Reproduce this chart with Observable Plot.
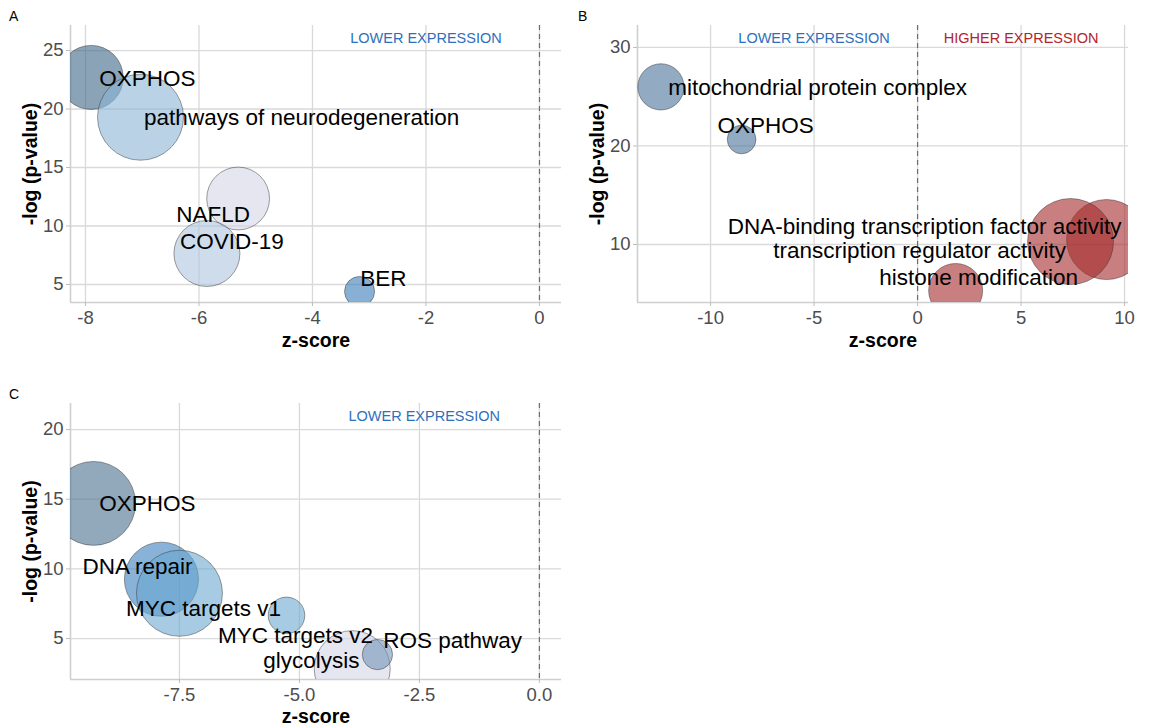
<!DOCTYPE html>
<html><head><meta charset="utf-8">
<script src="https://cdn.jsdelivr.net/npm/d3@7"></script>
<script src="https://cdn.jsdelivr.net/npm/@observablehq/plot@0.6"></script>
<style>
body{margin:0;background:#fff;font-family:"Liberation Sans",Arial,sans-serif}
#wrap{position:relative;width:1149px;height:727px;overflow:hidden;background:#fff}
.panel{position:absolute}
.tag{position:absolute;font-size:14px;color:#000;font-family:"Liberation Sans",Arial,sans-serif}
</style></head><body><div id="wrap"></div>
<script>
// ---------- Panel A ----------
const aTerms  = ["OXPHOS", "pathways of neurodegeneration", "NAFLD", "COVID-19", "BER"];
const aZ      = [-7.9, -7.03, -5.31, -5.86, -3.17];
const aLogP   = [22.7, 19.3, 12.35, 7.65, 4.4];
const aCount  = [50, 90, 48, 53, 11];
const aLabelZ = [-6.91, -4.19, -5.75, -5.42, -2.75];
const aLabelP = [22.6, 19.25, 11.0, 8.69, 5.5];
const aXTicks = [-8, -6, -4, -2, 0];
const aYTicks = [5, 10, 15, 20, 25];

// ---------- Panel B ----------
const bTerms  = ["mitochondrial protein complex", "OXPHOS", "DNA-binding transcription factor activity", "transcription regulator activity", "histone modification"];
const bZ      = [-12.4, -8.5, 9.13, 7.39, 1.84];
const bLogP   = [26.0, 20.66, 10.5, 10.3, 5.33];
const bCount  = [52, 20, 156, 180, 71];
const bLabelZ = [-4.83, -7.34, 0.34, 0.1, 2.95];
const bLabelP = [25.9, 22.0, 11.83, 9.4, 6.65];
const bXTicks = [-10, -5, 0, 5, 10];
const bYTicks = [10, 20, 30];

// ---------- Panel C ----------
const cTerms  = ["OXPHOS", "DNA repair", "MYC targets v1", "MYC targets v2", "glycolysis", "ROS pathway"];
const cZ      = [-9.29, -7.875, -7.5, -5.27, -3.9, -3.375];
const cLogP   = [14.7, 9.26, 8.25, 6.66, 2.84, 3.85];
const cCount  = [100, 78, 105, 19, 82, 13];
const cLabelZ = [-8.17, -8.375, -7.0, -5.08, -4.75, -1.81];
const cLabelP = [14.66, 10.12, 7.1, 5.22, 3.42, 4.86];
const cXTicks = [-7.5, -5, -2.5, 0];
const cYTicks = [5, 10, 15, 20];

// direction annotations
const annoText = ["LOWER EXPRESSION", "HIGHER EXPRESSION"];

const font = "Liberation Sans, Arial, sans-serif";
const LOW = "#2f6fba", HIGH = "#b0262c";

function rows(terms, z, p, n, lz, lp) {
  return terms.map((t, i) => ({term: t, z: z[i], p: p[i], n: n[i], lz: lz[i], lp: lp[i]}));
}

function panel(cfg) {
  const data = rows(cfg.terms, cfg.z, cfg.p, cfg.n, cfg.lz, cfg.lp);
  return Plot.plot({
    width: cfg.width, height: cfg.height,
    marginLeft: cfg.ml, marginRight: cfg.mr, marginTop: cfg.mt, marginBottom: cfg.mb,
    style: {fontFamily: font, background: "#fff", overflow: "visible"},
    x: {domain: cfg.xd},
    y: {domain: cfg.yd},
    r: {type: "sqrt", domain: [0, d3.max(cfg.n)], range: [0, 43]},
    color: {domain: cfg.terms, range: cfg.colors},
    marks: [
      Plot.gridX(cfg.xt, {stroke: "#d9d9d9", strokeOpacity: 1, strokeWidth: 1.3}),
      Plot.gridY(cfg.yt, {stroke: "#d9d9d9", strokeOpacity: 1, strokeWidth: 1.3}),
      Plot.ruleX([0], {stroke: "#6e6e6e", strokeWidth: 1.2, strokeDasharray: "5,4"}),
      Plot.ruleX([cfg.xd[0]], {stroke: "#cfcfcf", strokeWidth: 1.6}),
      Plot.ruleY([cfg.yd[0]], {stroke: "#cfcfcf", strokeWidth: 1.6}),
      Plot.axisX({ticks: cfg.xt, tickFormat: cfg.xfmt, tickSize: 4, tickPadding: 4, fontSize: 18.5, stroke: "#bdbdbd", fill: "#4d4d4d", label: null}),
      Plot.axisY({ticks: cfg.yt, tickFormat: d => String(d), tickSize: 4, tickPadding: 3, fontSize: 18.5, stroke: "#bdbdbd", fill: "#4d4d4d", label: null}),
      Plot.dot(data, {x: "z", y: "p", r: "n", fill: "term", fillOpacity: 0.6,
        stroke: "#3a3a3a", strokeOpacity: 0.55, strokeWidth: 0.9, sort: null, clip: true}),
      Plot.text(data, {x: "lz", y: "lp", text: "term", fontSize: 22.5, fill: "#000"}),
      Plot.text(cfg.anno, {x: "x", text: "t", fill: "c", frameAnchor: "top", lineAnchor: "middle", dy: 13, fontSize: 14.5}),
      Plot.text(["z-score"], {frameAnchor: "bottom", lineAnchor: "middle", textAnchor: "middle", dy: cfg.titleDy, fontWeight: "bold", fontSize: 19.5, fill: "#000"}),
      Plot.text(["-log (p-value)"], {frameAnchor: "left", lineAnchor: "middle", textAnchor: "middle", dx: -40, rotate: -90, fontWeight: "bold", fontSize: 19.5, fill: "#000"})
    ]
  });
}

const wrap = document.getElementById("wrap");
function place(node, left, top) {
  const d = document.createElement("div");
  d.className = "panel"; d.style.left = left + "px"; d.style.top = top + "px";
  d.appendChild(node); wrap.appendChild(d);
}
function tag(t, left, top) {
  const d = document.createElement("div");
  d.className = "tag"; d.textContent = t; d.style.left = left + "px"; d.style.top = top + "px";
  wrap.appendChild(d);
}

place(panel({
  width: 570, height: 360, ml: 70, mr: 9, mt: 25, mb: 58, titleDy: 38,
  terms: aTerms, z: aZ, p: aLogP, n: aCount, lz: aLabelZ, lp: aLabelP,
  xd: [-8.264, 0.388], yd: [3.46, 27.14], xt: aXTicks, yt: aYTicks, xfmt: d => String(d),
  colors: ["#3e6587", "#8ab4d5", "#d5d5e6", "#afc5df", "#397bb9"],
  anno: [{x: -2, t: annoText[0], c: LOW}]
}), 0, 0);

place(panel({
  width: 579, height: 360, ml: 67, mr: 21, mt: 25, mb: 58, titleDy: 38,
  terms: bTerms, z: bZ, p: bLogP, n: bCount, lz: bLabelZ, lp: bLabelP,
  xd: [-13.53, 10.19], yd: [4.11, 32.23], xt: bXTicks, yt: bYTicks, xfmt: d => String(d),
  colors: ["#4a719a", "#4a719a", "#a52a2a", "#a52a2a", "#a52a2a"],
  anno: [{x: -5, t: annoText[0], c: LOW}, {x: 5, t: annoText[1], c: HIGH}]
}), 570, 0);

place(panel({
  width: 570, height: 357, ml: 70, mr: 9, mt: 33, mb: 48, titleDy: 37,
  terms: cTerms, z: cZ, p: cLogP, n: cCount, lz: cLabelZ, lp: cLabelP,
  xd: [-9.77, 0.46], yd: [2.06, 21.87], xt: cXTicks, yt: cYTicks, xfmt: d => d.toFixed(1),
  colors: ["#4a6e8e", "#397fbc", "#6aa8d0", "#6aa8d0", "#d5d5e8", "#7595b8"],
  anno: [{x: -2.4, t: annoText[0], c: LOW}]
}), 0, 370);

tag("A", 9, 8);
tag("B", 578, 8);
tag("C", 9, 386);
</script></body></html>
